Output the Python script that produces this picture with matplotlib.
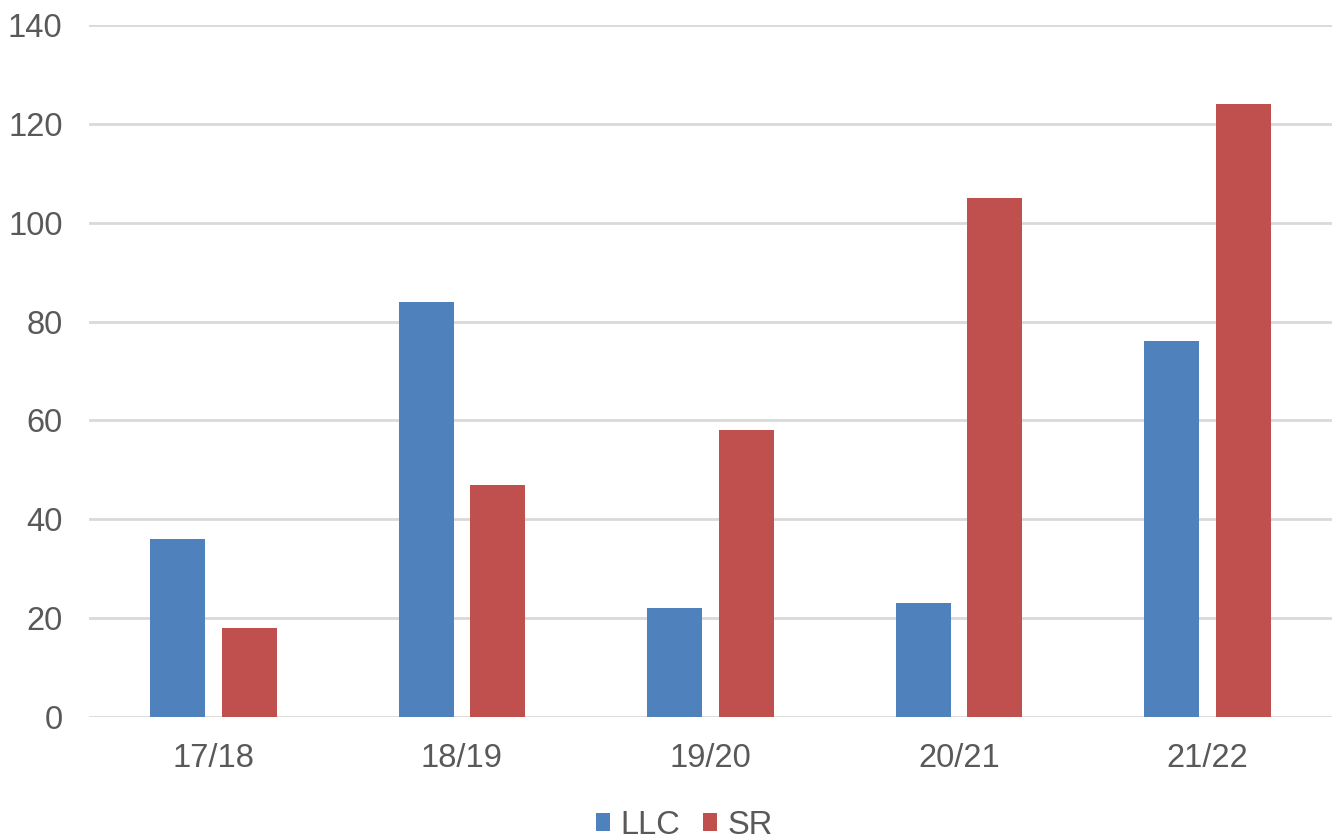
import matplotlib
matplotlib.use("Agg")
import matplotlib.pyplot as plt
import numpy as np

categories = ["17/18", "18/19", "19/20", "20/21", "21/22"]
llc = [36, 84, 22, 23, 76]
sr = [18, 47, 58, 105, 124]
yticks = [0, 20, 40, 60, 80, 100, 120, 140]

plt.rcParams['font.family'] = ['Liberation Sans', 'DejaVu Sans']
text_color = "#595959"

fig = plt.figure(figsize=(13.32, 8.40), dpi=100)
ax = fig.add_axes([89/1332, 1 - 717/840, 1 - 89/1332, (717 - 25)/840])

x = np.arange(len(categories))
w = 0.222
off = 0.144
ax.bar(x - off, llc, width=w, color="#4F81BD", label="LLC", zorder=3)
ax.bar(x + off, sr, width=w, color="#C0504D", label="SR", zorder=3)

ax.set_xlim(-0.5, len(categories) - 0.5)
ax.set_ylim(0, 140)
ax.set_yticks(yticks)
ax.set_xticks(x)
ax.set_xticklabels(categories)
ax.yaxis.grid(True, color="#D9D9D9", linewidth=2, zorder=0)
ax.set_axisbelow(True)
for s in ax.spines.values():
    s.set_visible(False)
ax.tick_params(axis='both', length=0, labelsize=23.5, colors=text_color)
ax.tick_params(axis='y', pad=19)
ax.tick_params(axis='x', pad=19)
for lbl in ax.get_xticklabels() + ax.get_yticklabels():
    lbl.set_color(text_color)

leg = fig.legend(loc='lower center', bbox_to_anchor=(0.5135, -0.036), ncol=2, frameon=False,
                 fontsize=23.5, handlelength=0.45, handleheight=0.45, handletextpad=0.3,
                 columnspacing=0.7)
for t in leg.get_texts():
    t.set_color(text_color)

fig.savefig("out.png", dpi=100)
